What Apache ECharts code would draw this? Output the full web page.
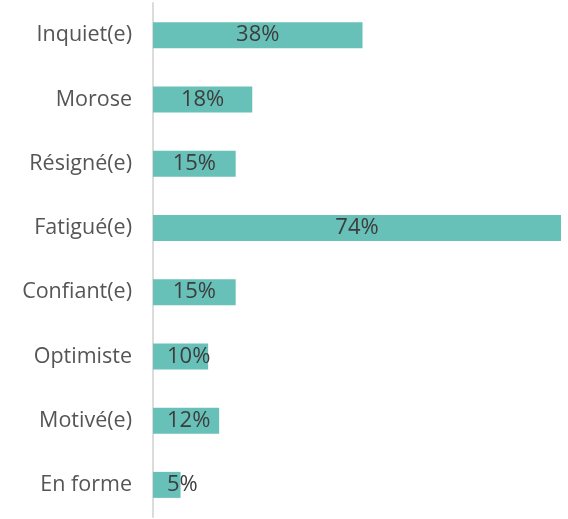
<!DOCTYPE html>
<html lang="fr">
<head>
<meta charset="UTF-8">
<title>humeur</title>
<script src="https://cdn.jsdelivr.net/npm/echarts@6/dist/echarts.min.js"></script>
<style>html,body{margin:0;padding:0;background:#fff;}</style>
</head>
<body>
<div id="main" style="width:568px;height:519px;"></div>
<script>
var categories = ['Inquiet(e)', 'Morose', 'Résigné(e)', 'Fatigué(e)', 'Confiant(e)', 'Optimiste', 'Motivé(e)', 'En forme'];
var values = [38, 18, 15, 74, 15, 10, 12, 5];

var FONT = '"Open Sans"';
var chart = echarts.init(document.getElementById('main'));

// small bars: label pushed right so it never starts before ~14px from the axis
var ctx = document.createElement('canvas').getContext('2d');
ctx.font = '22px ' + FONT;
var pxPerUnit = 407.7 / 74;
var seriesData = values.map(function (v) {
    var w = ctx.measureText(v + '%').width;
    var barCenter = v * pxPerUnit / 2;
    var minCenter = 14 + w / 2;
    var item = { value: v };
    if (barCenter < minCenter) item.label = { offset: [minCenter - barCenter, 0] };
    return item;
});

var option = {
    animation: false,
    grid: { left: 153, right: 7, top: 3, bottom: 2, containLabel: false },
    xAxis: {
        type: 'value', min: 0, max: 74,
        show: false
    },
    yAxis: {
        type: 'category', inverse: true,
        data: categories,
        axisLine: { show: true, lineStyle: { color: '#dcdcdc', width: 2 } },
        axisTick: { show: false },
        axisLabel: { color: '#555', fontSize: 21.5, fontFamily: FONT, margin: 21 }
    },
    series: [{
        type: 'bar',
        data: seriesData,
        barWidth: 26,
        itemStyle: { color: '#67c1b8' },
        label: {
            show: true, position: 'inside',
            formatter: '{c}%',
            color: '#3d3d3d', fontSize: 22, fontWeight: 500, fontFamily: FONT
        }
    }]
};
chart.setOption(option);
</script>
</body>
</html>
